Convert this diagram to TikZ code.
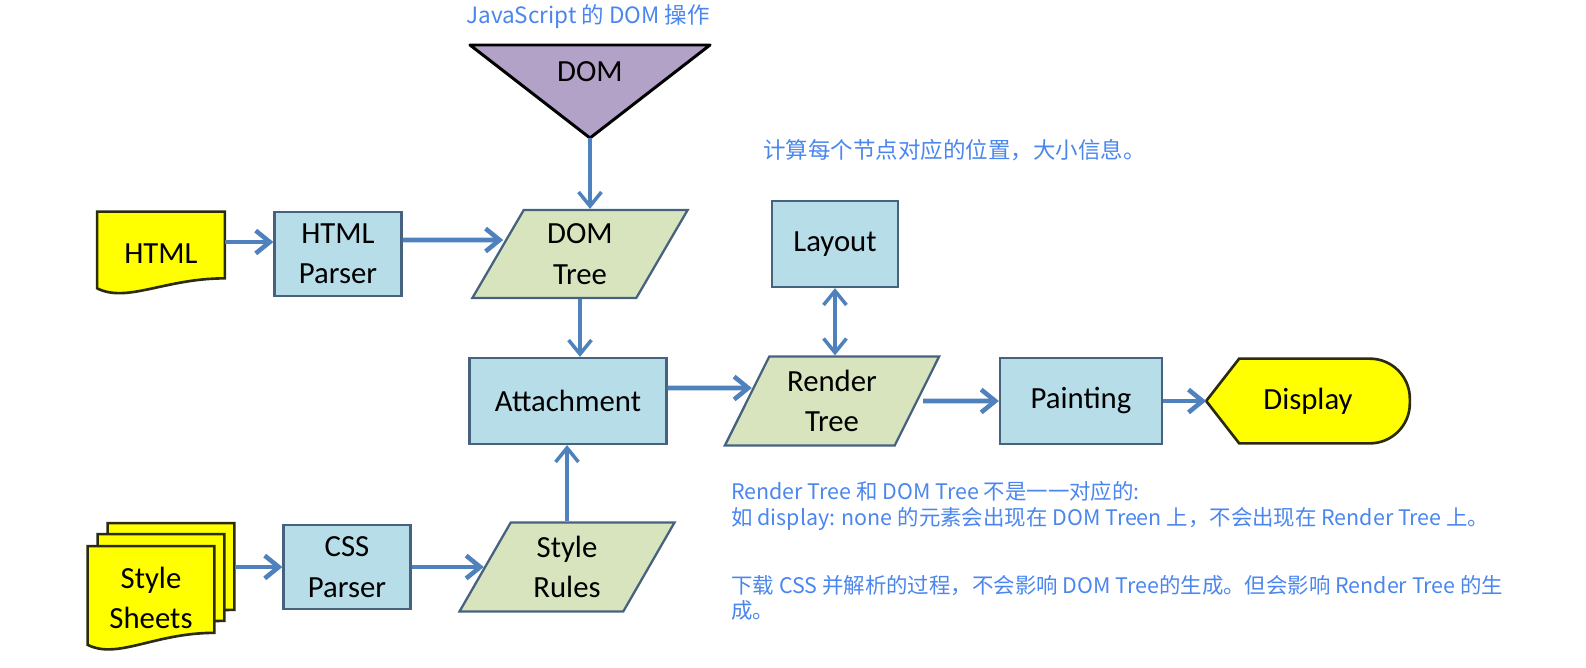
\documentclass[tikz,border=0pt]{standalone}
\usepackage{fontspec}
\setmainfont{Carlito}
\newfontfamily\cjk{Noto Sans CJK SC}
\usetikzlibrary{positioning,shapes.geometric,arrows.meta,backgrounds}

\definecolor{procfill}{HTML}{B7DDE8}
\definecolor{procline}{HTML}{46627F}
\definecolor{datafill}{HTML}{D7E4BD}
\definecolor{docfill}{HTML}{FFFF00}
\definecolor{docline}{HTML}{2B2B10}
\definecolor{trifill}{HTML}{B3A2C7}
\definecolor{flowblue}{HTML}{4F81BD}
\definecolor{noteblue}{HTML}{4A86EE}

\newcommand\procfont{\fontsize{17.5}{23}\selectfont}
\newcommand\notefont{\cjk\fontsize{12.2}{14.4}\selectfont}

\begin{document}
\begin{tikzpicture}[x=0.02cm,y=-0.02cm,>={Straight Barb[length=8pt,width=13pt]},
    proc/.style={rectangle,draw=procline,fill=procfill,line width=1.3pt,align=center,font=\procfont},
    data/.style={trapezium,trapezium left angle=64,trapezium right angle=116,
      trapezium stretches=true,draw=procline,fill=datafill,line width=1.3pt,align=center,font=\procfont},
    plain/.style={align=center,font=\procfont},
    doc/.style={draw=docline,fill=docfill,line width=1.5pt},
    flow/.style={->,draw=flowblue,line width=2.6pt},
    note/.style={font=\notefont,text=noteblue,align=left,inner sep=0pt}]
  \useasboundingbox (0,0) rectangle (1586,667);

  % top row
  \node[plain,minimum width=2.54cm,minimum height=1.68cm] (html) at (161,254) {HTML};
  \node[proc,minimum width=2.54cm,minimum height=1.68cm] (hparser) at (338,254) {HTML\\Parser};
  \node[data,minimum width=4.34cm,minimum height=1.76cm] (domtree) at (580,254) {DOM\\Tree};
  \node[plain] (dom) at (590,72) {DOM};
  \coordinate (domtip) at (590,138);
  \node[proc,minimum width=2.52cm,minimum height=1.72cm] (layout) at (835,244) {Layout};

  % middle row
  \node[proc,minimum width=3.94cm,minimum height=1.72cm] (attach) at (568,401) {Attachment};
  \node[data,minimum width=4.3cm,minimum height=1.78cm] (rtree) at (832,401) {Render\\Tree};
  \node[proc,minimum width=3.24cm,minimum height=1.72cm] (paint) at (1081,401) {Painting};
  \node[plain,minimum width=4.06cm,minimum height=1.68cm] (disp) at (1308,401) {Display};

  % bottom row
  \node[plain,minimum width=2.52cm,minimum height=2.06cm] (sheets) at (151,598) {Style\\Sheets};
  \coordinate (sheetsback) at ([xshift=0.42cm]sheets.east);
  \node[proc,minimum width=2.54cm,minimum height=1.68cm] (cparser) at (347,567) {CSS\\Parser};
  \node[data,minimum width=4.32cm,minimum height=1.78cm] (srules) at (567,567) {Style\\Rules};

  % notes
  \node[note,font=\cjk\fontsize{12.8}{14}\selectfont] (jsnote) at (588,17) {JavaScript 的 DOM 操作};
  \node[note,anchor=west,font=\cjk\fontsize{12.8}{14}\selectfont] (layoutnote) at (763,150) {计算每个节点对应的位置，大小信息。};
  \node[note,anchor=west] (treenote) at (731,506) {Render Tree 和 DOM Tree 不是一一对应的:\\如 display: none 的元素会出现在 DOM Treen 上，不会出现在 Render Tree 上。};
  \node[note,anchor=west] (cssnote) at (731,598) {下载 CSS 并解析的过程，不会影响 DOM Tree的生成。但会影响 Render Tree 的生\\成。};

  \begin{scope}[on background layer]
    \draw[doc] (html.north west) -- (html.north east) -- ([yshift=0.36cm]html.south east)
      .. controls +(-1.2cm,0) and +(0.6cm,-0.3cm) .. ([yshift=0.16cm]html.south west) -- cycle;
    \foreach \dx/\dy in {0.4/0.46,0.2/0.24}
      \draw[doc] ([xshift=\dx cm,yshift=\dy cm]sheets.north west) -- ([xshift=\dx cm,yshift=\dy cm]sheets.north east)
        -- ([xshift=\dx cm,yshift=\dy cm+0.34cm]sheets.south east)
        .. controls +(-1.2cm,0) and +(0.6cm,-0.3cm) .. ([xshift=\dx cm,yshift=\dy cm+0.1cm]sheets.south west) -- cycle;
    \draw[doc] (sheets.north west) -- (sheets.north east) -- ([yshift=0.34cm]sheets.south east)
      .. controls +(-1.2cm,0) and +(0.6cm,-0.3cm) .. ([yshift=0.1cm]sheets.south west) -- cycle;
    \draw[doc] (disp.west) -- ([xshift=0.66cm]disp.north west) [rounded corners=0.8cm] -- (disp.north east)
      -- (disp.south east) [sharp corners] -- ([xshift=0.66cm]disp.south west) -- cycle;
    \draw[fill=trifill,draw=black,line width=1.7pt,line join=round] (470,45) -- (710,45) -- (domtip) -- cycle;
  \end{scope}

  % connectors
  \draw[flow] ([yshift=0.24cm]html.east) -- ([yshift=0.24cm]hparser.west);
  \draw[flow] ([yshift=0.28cm]hparser.east) -- ([yshift=0.28cm,xshift=0.13cm]domtree.west);
  \draw[flow,line width=2pt] (domtip) -- (domtip |- domtree.north);
  \draw[flow,line width=2pt] (domtree.south) -- (domtree.south |- attach.north);
  \draw[flow,line width=2pt] (srules.north) -- (srules.north |- attach.south);
  \draw[flow] ([yshift=0.26cm]attach.east) -- ([yshift=0.26cm,xshift=0.12cm]rtree.west);
  \draw[flow,<->,line width=2pt] (layout.south) -- (layout.south |- rtree.north);
  \draw[flow] ([xshift=0.1cm]rtree.east) -- (paint.west);
  \draw[flow] (paint.east) -- (disp.west);
  \draw[flow] (cparser.west -| sheetsback) -- (cparser.west);
  \draw[flow] (cparser.east) -- (cparser.east -| srules.west);
\end{tikzpicture}
\end{document}
